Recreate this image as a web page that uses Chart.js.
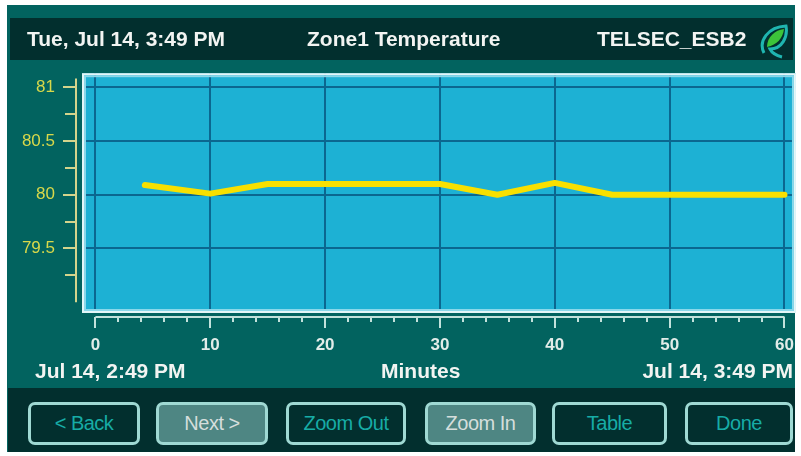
<!doctype html>
<html lang="en">
<head>
  <meta charset="utf-8">
  <title>Zone1 Temperature</title>
  <style>
    body { margin: 0; width: 801px; height: 456px; background: #fff; position: relative; overflow: hidden;
           font-family: 'Liberation Sans', Arial, sans-serif; }
    #panel { position: absolute; left: 7px; top: 5px; width: 788px; height: 447px; background: #02635f; }
    .bar { position: absolute; background: #022f2e; }
    #header { left: 10px; top: 18px; width: 783px; height: 42px; }
    #footer { left: 8px; top: 388px; width: 787px; height: 64px; }
    .txt { position: absolute; color: #f2f4f2; font-weight: bold; font-size: 21px; white-space: nowrap; }
    #chart { position: absolute; left: 0; top: 36px; }
    .btn { position: absolute; top: 402px; height: 43px; box-sizing: border-box; border: 3px solid #9fd9d3;
           border-radius: 7px; background: #022f2e; color: #17aca6; font-size: 20px; text-align: center;
           line-height: 37px; letter-spacing: -0.5px; }
    .btn.grey { background: #4e8683; color: #d5dedc; }
  </style>
</head>
<body>
  <div id="panel"></div>
  <div id="header" class="bar"></div>
  <div id="footer" class="bar"></div>

  <canvas id="chart" width="816" height="352"></canvas>

  <div class="txt" style="left:27px; top:27px;">Tue, Jul 14, 3:49 PM</div>
  <div class="txt" style="left:307px; top:27px;">Zone1 Temperature</div>
  <div class="txt" style="left:597px; top:27px;">TELSEC_ESB2</div>
  <svg style="position:absolute; left:758px; top:23px;" width="34" height="36" viewBox="0 0 34 36">
    <path d="M6 30 C0 18 10 4 28 3 C30 14 24 26 12 26 C14 30 20 33 24 34" fill="none" stroke="#1fb5b0" stroke-width="3"/>
    <path d="M9 24 C9 14 17 7 26 6 C25 15 19 22 9 24 Z" fill="#3cc43a"/>
  </svg>

  <div class="txt" style="left:35px; top:359px;">Jul 14, 2:49 PM</div>
  <div class="txt" style="left:381px; top:359px;">Minutes</div>
  <div class="txt" style="right:8px; top:359px;">Jul 14, 3:49 PM</div>

  <div class="btn" style="left:28px; width:112px;">&lt; Back</div>
  <div class="btn grey" style="left:156px; width:112px;">Next &gt;</div>
  <div class="btn" style="left:286px; width:120px;">Zoom Out</div>
  <div class="btn grey" style="left:425px; width:111px;">Zoom In</div>
  <div class="btn" style="left:552px; width:115px;">Table</div>
  <div class="btn" style="left:685px; width:108px;">Done</div>

  <script src="https://cdn.jsdelivr.net/npm/chart.js@4.4.0/dist/chart.umd.min.js"></script>
  <script>
  // readings every 5 minutes over the last hour
  const minutes = [4.3, 10, 15, 20, 25, 30, 35, 40, 45, 50, 55, 60];
  const temps = [80.09, 80.01, 80.1, 80.1, 80.1, 80.1, 80.0, 80.11, 80.0, 80.0, 80.0, 80.0];
  const xTicks = [0, 10, 20, 30, 40, 50, 60];
  const yTicks = [79.5, 80, 80.5, 81];

  const font = 'Liberation Sans, Arial, sans-serif';

  // plot background, border and the detached axes with minor ticks
  const plotDeco = {
    id: 'plotDeco',
    beforeDraw(chart) {
      let a = chart.chartArea, ctx = chart.ctx;
      ctx.save();
      ctx.fillStyle = '#1db1d4';
      ctx.fillRect(a.left, a.top, a.right - a.left, a.bottom - a.top);
      ctx.restore();
    },
    beforeDatasetsDraw(chart) {
      let a = chart.chartArea, ctx = chart.ctx;
      ctx.save();
      ctx.lineWidth = 2;
      ctx.strokeStyle = '#e4f6f8';
      ctx.strokeRect(a.left + 1, a.top + 1, a.right - a.left - 2, a.bottom - a.top - 2);
      ctx.strokeStyle = '#8ad8ea';
      ctx.strokeRect(a.left + 3, a.top + 3, a.right - a.left - 6, a.bottom - a.top - 6);
      ctx.restore();
    },
    afterDraw(chart) {
      let a = chart.chartArea, ctx = chart.ctx;
      let xs = chart.scales.x, ys = chart.scales.y;
      ctx.save();
      // x axis
      let ay = a.bottom + 4;
      ctx.strokeStyle = '#c2e2dc';
      ctx.lineWidth = 2;
      ctx.beginPath();
      ctx.moveTo(xs.getPixelForValue(0), ay);
      ctx.lineTo(xs.getPixelForValue(60), ay);
      for (let v = 0; v <= 60; v += 2) {
        let px = Math.round(xs.getPixelForValue(v));
        ctx.moveTo(px, ay);
        ctx.lineTo(px, ay + (v % 10 == 0 ? 11 : 5));
      }
      ctx.stroke();
      // y axis
      let ax = a.left - 6;
      ctx.strokeStyle = '#d4d48c';
      ctx.beginPath();
      ctx.moveTo(ax, ys.getPixelForValue(81.08));
      ctx.lineTo(ax, ys.getPixelForValue(79.0));
      for (let v = 79.25; v <= 81; v += 0.25) {
        let py = Math.round(ys.getPixelForValue(v));
        ctx.moveTo(ax, py);
        ctx.lineTo(ax - (v % 0.5 == 0 ? 13 : 11), py);
      }
      ctx.stroke();
      ctx.restore();
    }
  };

  let ctx = document.getElementById('chart').getContext('2d');
  let chart = new Chart(ctx, {
    type: 'line',
    data: {
      datasets: [{
        data: minutes.map((m, i) => ({x: m, y: temps[i]})),
        borderColor: '#f8e000',
        borderWidth: 6,
        borderCapStyle: 'round',
        borderJoinStyle: 'round',
        pointRadius: 0,
        tension: 0
      }]
    },
    options: {
      responsive: false,
      animation: false,
      devicePixelRatio: 1,
      layout: { autoPadding: false, padding: { top: 13, right: 4, left: 0, bottom: 0 } },
      plugins: { legend: { display: false }, tooltip: { enabled: false } },
      scales: {
        x: {
          type: 'linear',
          min: -1.17,
          max: 61.0,
          afterBuildTicks: s => { s.ticks = xTicks.map(v => ({value: v})); },
          afterFit: s => { s.height = 75; },
          grid: { color: '#0b6790', lineWidth: 2, drawTicks: false },
          border: { display: false },
          ticks: {
            color: '#e2ece9', padding: 22, maxRotation: 0, autoSkip: false,
            font: { family: font, size: 17, weight: 'bold' },
            callback: v => String(v)
          }
        },
        y: {
          min: 78.9,
          max: 81.13,
          afterBuildTicks: s => { s.ticks = yTicks.map(v => ({value: v})); },
          afterFit: s => { s.width = 82; },
          grid: { color: '#0b6790', lineWidth: 2, drawTicks: false },
          border: { display: false },
          ticks: {
            color: '#d8d84a', padding: 27, autoSkip: false,
            font: { family: font, size: 17 },
            callback: v => String(v)
          }
        }
      }
    },
    plugins: [plotDeco]
  });
  </script>
</body>
</html>
